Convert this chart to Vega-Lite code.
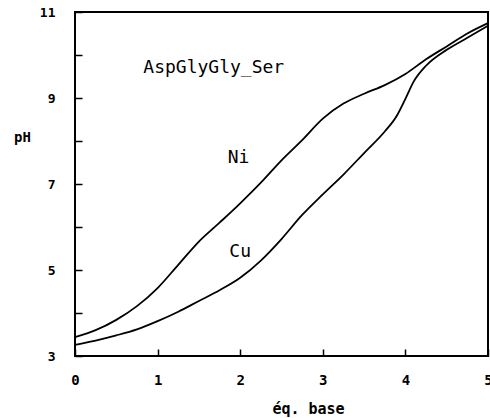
{
  "$schema": "https://vega.github.io/schema/vega-lite/v6.json",
  "width": 413,
  "height": 344,
  "autosize": {"type": "none"},
  "padding": {"left": 75, "top": 12, "right": 2, "bottom": 62},
  "background": "white",
  "config": {
    "view": {"stroke": "black", "strokeWidth": 2},
    "font": "DejaVu Sans Mono",
    "axis": {
      "grid": false,
      "domain": false,
      "zindex": 1,
      "labelFlush": false,
      "tickColor": "black",
      "tickWidth": 1.5,
      "labelColor": "black",
      "labelFont": "DejaVu Sans Mono",
      "labelFontWeight": "bold",
      "titleColor": "black",
      "titleFont": "DejaVu Sans Mono",
      "titleFontWeight": "bold"
    }
  },
  "datasets": {
    "curves": [
      {"metal": "Ni", "eq": 0.0, "pH": 3.44},
      {"metal": "Ni", "eq": 0.25, "pH": 3.6},
      {"metal": "Ni", "eq": 0.5, "pH": 3.84},
      {"metal": "Ni", "eq": 0.75, "pH": 4.16},
      {"metal": "Ni", "eq": 1.0, "pH": 4.58},
      {"metal": "Ni", "eq": 1.25, "pH": 5.12},
      {"metal": "Ni", "eq": 1.5, "pH": 5.66},
      {"metal": "Ni", "eq": 1.75, "pH": 6.1},
      {"metal": "Ni", "eq": 2.0, "pH": 6.55},
      {"metal": "Ni", "eq": 2.25, "pH": 7.03},
      {"metal": "Ni", "eq": 2.5, "pH": 7.55},
      {"metal": "Ni", "eq": 2.75, "pH": 8.02},
      {"metal": "Ni", "eq": 3.0, "pH": 8.52},
      {"metal": "Ni", "eq": 3.25, "pH": 8.87},
      {"metal": "Ni", "eq": 3.5, "pH": 9.1},
      {"metal": "Ni", "eq": 3.75, "pH": 9.3},
      {"metal": "Ni", "eq": 4.0, "pH": 9.56},
      {"metal": "Ni", "eq": 4.25, "pH": 9.9},
      {"metal": "Ni", "eq": 4.5, "pH": 10.2},
      {"metal": "Ni", "eq": 4.75, "pH": 10.5},
      {"metal": "Ni", "eq": 5.0, "pH": 10.74},
      {"metal": "Cu", "eq": 0.0, "pH": 3.26},
      {"metal": "Cu", "eq": 0.25, "pH": 3.36},
      {"metal": "Cu", "eq": 0.5, "pH": 3.48},
      {"metal": "Cu", "eq": 0.75, "pH": 3.62},
      {"metal": "Cu", "eq": 1.0, "pH": 3.81},
      {"metal": "Cu", "eq": 1.25, "pH": 4.03},
      {"metal": "Cu", "eq": 1.5, "pH": 4.28},
      {"metal": "Cu", "eq": 1.75, "pH": 4.53},
      {"metal": "Cu", "eq": 2.0, "pH": 4.82},
      {"metal": "Cu", "eq": 2.25, "pH": 5.22},
      {"metal": "Cu", "eq": 2.5, "pH": 5.72},
      {"metal": "Cu", "eq": 2.75, "pH": 6.28},
      {"metal": "Cu", "eq": 3.0, "pH": 6.76},
      {"metal": "Cu", "eq": 3.25, "pH": 7.22},
      {"metal": "Cu", "eq": 3.5, "pH": 7.72},
      {"metal": "Cu", "eq": 3.75, "pH": 8.22},
      {"metal": "Cu", "eq": 3.9, "pH": 8.6},
      {"metal": "Cu", "eq": 4.0, "pH": 8.98},
      {"metal": "Cu", "eq": 4.1, "pH": 9.38},
      {"metal": "Cu", "eq": 4.25, "pH": 9.75},
      {"metal": "Cu", "eq": 4.5, "pH": 10.12},
      {"metal": "Cu", "eq": 4.75, "pH": 10.4},
      {"metal": "Cu", "eq": 5.0, "pH": 10.68}
    ],
    "labels": [
      {"text": "AspGlyGly_Ser", "eq": 1.68, "pH": 9.7},
      {"text": "Ni", "eq": 1.98, "pH": 7.6},
      {"text": "Cu", "eq": 2.0, "pH": 5.42}
    ]
  },
  "layer": [
    {
      "data": {"name": "curves"},
      "mark": {"type": "line", "color": "black", "strokeWidth": 1.8, "interpolate": "monotone"},
      "encoding": {
        "x": {
          "field": "eq",
          "type": "quantitative",
          "scale": {"domain": [0, 5], "nice": false},
          "axis": {
            "title": "éq. base",
            "values": [0, 1, 2, 3, 4, 5],
            "format": "d",
            "tickSize": -7,
            "labelPadding": 24,
            "labelFontSize": 14,
            "titleFontSize": 15,
            "titleX": 233,
            "titleY": 52,
            "titleAlign": "center",
            "titleBaseline": "middle"
          }
        },
        "y": {
          "field": "pH",
          "type": "quantitative",
          "scale": {"domain": [3, 11], "nice": false, "zero": false},
          "axis": {
            "title": "pH",
            "values": [3, 4, 5, 6, 7, 8, 9, 10, 11],
            "labelExpr": "datum.value % 2 == 1 ? datum.label : ''",
            "tickSize": -7,
            "labelPadding": 27,
            "labelFontSize": 13,
            "titleFontSize": 14,
            "titleAngle": 0,
            "titleX": -53,
            "titleY": 125,
            "titleAlign": "center",
            "titleBaseline": "middle"
          }
        },
        "detail": {"field": "metal"}
      }
    },
    {
      "data": {"name": "labels"},
      "mark": {"type": "text", "font": "DejaVu Sans Mono", "fontSize": 18, "color": "black", "align": "center", "baseline": "middle"},
      "encoding": {
        "x": {"field": "eq", "type": "quantitative"},
        "y": {"field": "pH", "type": "quantitative"},
        "text": {"field": "text"}
      }
    }
  ]
}
